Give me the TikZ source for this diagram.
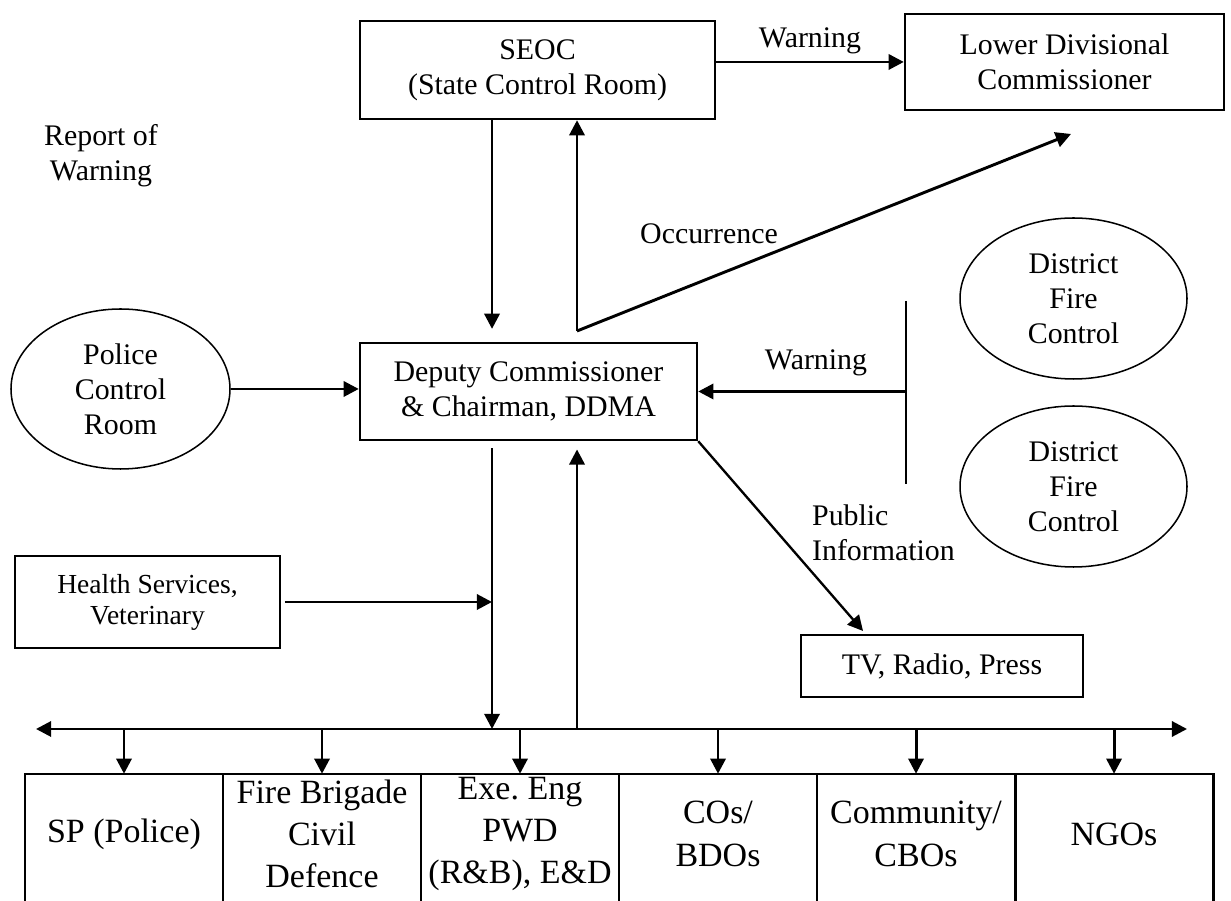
\documentclass[tikz,border=0pt]{standalone}
\usepackage{fontspec}
\setmainfont{Liberation Serif}
\usetikzlibrary{arrows.meta,shapes.geometric}

\begin{document}
\begin{tikzpicture}[scale=0.30,
		box/.style={draw,line width=2.1pt,align=center,inner sep=0pt},
		oval/.style={draw,ellipse,line width=1.3pt,align=center,inner sep=0pt},
		cell/.style={align=center,inner sep=0pt,minimum width=5.94cm,minimum height=3.6cm,font=\fontsize{29}{36}\selectfont},
		arr/.style={line width=2.5pt,-{Triangle[length=13pt,width=13pt]}},
		font=\fontsize{25.5}{30}\selectfont]
		\useasboundingbox (0,0) rectangle (123.1,90);
		
		\node[box,minimum width=10.65cm,minimum height=2.94cm] (seoc) at (53.75,83.0){SEOC\\(State Control Room)};
		\node[box,minimum width=9.57cm,minimum height=2.88cm] (ldc) at (106.45,83.8){Lower Divisional\\Commissioner};
		\node[box,minimum width=10.11cm,minimum height=2.91cm] (dc) at (52.85,50.85){Deputy Commissioner\\\& Chairman, DDMA};
		\node[oval,minimum width=6.57cm,minimum height=4.8cm] (police) at (12.05,51.1){Police\\Control\\Room};
		\node[box,minimum width=7.95cm,minimum height=2.76cm,font=\fontsize{23.5}{26.5}\selectfont] (health) at (14.75,29.8){Health Services,\\Veterinary};
		\node[oval,minimum width=6.81cm,minimum height=4.83cm] (fire1) at (107.35,60.15){District\\Fire\\Control};
		\node[oval,minimum width=6.81cm,minimum height=4.83cm] (fire2) at (107.35,41.35){District\\Fire\\Control};
		\node[box,minimum width=8.46cm,minimum height=1.86cm] (tv) at (94.2,23.4){TV, Radio, Press};
		
		\node[align=center] (report) at (10.1,74.4){Report of\\Warning};
		
		% bottom row, open at the foot of the page
		\coordinate (pagefoot) at (0,-1);
		\node[cell] (sp) at (12.4,6.6){SP (Police)};
		\node[cell] (brig) at (32.2,6.6){Fire Brigade\\Civil\\Defence};
		\node[cell] (pwd) at (52.0,6.6){Exe.\ Eng\\PWD\\(R\&B), E\&D};
		\node[cell] (bdo) at (71.8,6.6){COs/\\BDOs};
		\node[cell] (cbo) at (91.6,6.6){Community/\\CBOs};
		\node[cell] (ngo) at (111.4,6.6){NGOs};
		\foreach \nm in {sp,brig,pwd,bdo,cbo,ngo}
		\draw[line width=2.1pt] (\nm.north west |- pagefoot) -- (\nm.north west) -- (\nm.north east) -- (\nm.north east |- pagefoot);
		
		\coordinate (dnx) at (49.2,0);
		\coordinate (occstart) at (57.7,56.9);
		\coordinate (occtip) at (107.1,76.6);
		\coordinate (busl) at (3.6,17.1);
		\coordinate (busr) at (118.7,17.1);
		\coordinate (firetop) at (90.6,59.9);
		\coordinate (firebot) at (90.6,41.6);
		\coordinate (pubtip) at (86.3,26.9);
		
		% SEOC links
		\draw[arr] (seoc.east |- ldc.west) -- (ldc.west) node[midway,above=2pt] (warn1) {Warning};
		\draw[arr,shorten >=11pt] (seoc.south -| dnx) -- (dc.north -| dnx);
		\draw[arr] (occstart) -- (occstart |- seoc.south);
		\draw[arr] (occstart) -- (occtip);
		\node (occ) at (70.9,66.65){Occurrence};
		
		% into DC
		\draw[arr] (police.east) -- (police.east -| dc.west);
		\draw[line width=1.5pt] (firetop) -- (firebot);
		\draw[arr] (firetop |- dc.east) -- (dc.east);
		\node (warn2) at (81.6,53.75){Warning};
		\draw[arr,line width=2pt] (dc.south east) -- (pubtip);
		\node[anchor=west,align=left] (pub) at (80.8,36.75){Public\\Information};
		
		% DC to the bus
		\draw[arr,shorten <=6pt] (dc.south -| dnx) -- (busl -| dnx);
		\draw[arr,shorten >=7pt] (busl -| occstart) -- (dc.south -| occstart);
		\draw[arr,shorten <=3pt] (health.east) -- (health.east -| dnx);
		\draw[line width=2.5pt,{Triangle[length=13pt,width=13pt]}-{Triangle[length=13pt,width=13pt]}] (busl) -- (busr);
		\foreach \nm in {sp,brig,pwd,bdo,cbo,ngo}
		\draw[arr] (\nm.north |- busl) -- (\nm.north);
	\end{tikzpicture}
\end{document}
